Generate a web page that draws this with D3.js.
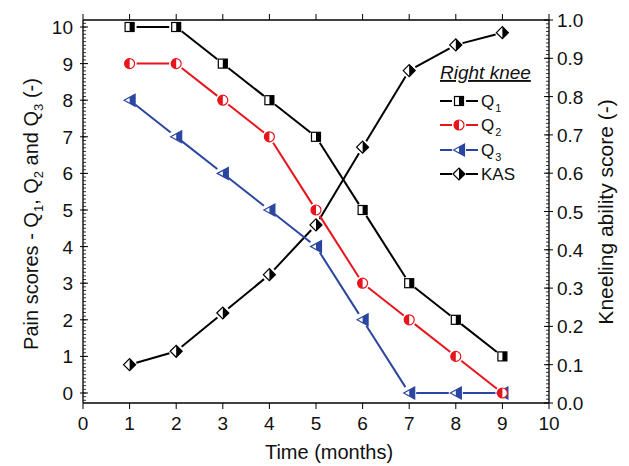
<!DOCTYPE html>
<html><head><meta charset="utf-8">
<script src="https://cdn.jsdelivr.net/npm/d3@7/dist/d3.min.js"></script>
<style>
body{margin:0;background:#fff;}
text{font-family:"Liberation Sans",Arial,sans-serif;fill:#111;}
</style></head>
<body><svg id="c" width="629" height="466"></svg>
<script>
const months = [1,2,3,4,5,6,7,8,9];
const q1 = [10,10,9,8,7,5,3,2,1];
const q2 = [9,9,8,7,5,3,2,1,0];
const q3 = [8,7,6,5,4,2,0,0,0];
const kas = [0.10,0.135,0.235,0.335,0.465,0.668,0.868,0.935,0.967];
const xTicks = [0,1,2,3,4,5,6,7,8,9,10];
const yLeftTicks = [0,1,2,3,4,5,6,7,8,9,10];
const yRightTicks = [0,0.1,0.2,0.3,0.4,0.5,0.6,0.7,0.8,0.9,1.0];

const svg = d3.select("#c");
const L=83,R=549,T=20,B=403;
const x = d3.scaleLinear().domain([0,10]).range([L,R]);
const yL = d3.scaleLinear().domain([0,10]).range([393,27]);
const yR = d3.scaleLinear().domain([0,1]).range([B,T]);

const red="#e8141c", blue="#2a46a0", black="#000";

// frame
const g = svg.append("g");
g.append("line").attr("x1",L).attr("x2",R).attr("y1",T).attr("y2",T).attr("stroke","#000").attr("stroke-width",1.3);
g.append("line").attr("x1",L).attr("x2",R).attr("y1",B).attr("y2",B).attr("stroke","#000").attr("stroke-width",1.3);
g.append("line").attr("x1",L).attr("x2",L).attr("y1",T).attr("y2",B).attr("stroke","#000").attr("stroke-width",1.3);
g.append("line").attr("x1",R).attr("x2",R).attr("y1",T).attr("y2",B).attr("stroke","#000").attr("stroke-width",1.3);

// x ticks bottom & top
xTicks.forEach(v=>{
  g.append("line").attr("x1",x(v)).attr("x2",x(v)).attr("y1",B).attr("y2",B+6).attr("stroke","#000");
  g.append("line").attr("x1",x(v)).attr("x2",x(v)).attr("y1",T).attr("y2",T-6).attr("stroke","#000");
  g.append("text").attr("x",x(v)).attr("y",B+27).attr("text-anchor","middle").attr("font-size",19).text(v);
});
// left minor ticks
const lMinor = d3.range(-2,102).map(i=>i/10).filter(v=>yL(v)<=B-1 && yL(v)>=T+1);
lMinor.forEach(v=>{
  g.append("line").attr("x1",L).attr("x2",L+3).attr("y1",yL(v)).attr("y2",yL(v)).attr("stroke","#000").attr("stroke-width",0.8);
});
yLeftTicks.forEach(v=>{
  g.append("line").attr("x1",L-3).attr("x2",L+5).attr("y1",yL(v)).attr("y2",yL(v)).attr("stroke","#000");
  g.append("text").attr("x",L-10).attr("y",yL(v)+7).attr("text-anchor","end").attr("font-size",19).text(v);
});
// right minor ticks
d3.range(1,100).map(i=>i/100).forEach(v=>{
  g.append("line").attr("x1",R-3).attr("x2",R).attr("y1",yR(v)).attr("y2",yR(v)).attr("stroke","#000").attr("stroke-width",0.8);
});
yRightTicks.forEach(v=>{
  g.append("line").attr("x1",R-5).attr("x2",R+4).attr("y1",yR(v)).attr("y2",yR(v)).attr("stroke","#000");
  g.append("text").attr("x",R+8).attr("y",yR(v)+7).attr("text-anchor","start").attr("font-size",19).text(v.toFixed(1));
});

// axis titles
g.append("text").attr("x",329).attr("y",459).attr("text-anchor","middle").attr("font-size",20).text("Time (months)");
const lt = g.append("text").attr("transform","translate(38,214) rotate(-90)").attr("text-anchor","middle").attr("font-size",20);
lt.append("tspan").text("Pain scores - Q");
lt.append("tspan").attr("font-size",13).attr("dy",5).text("1");
lt.append("tspan").attr("dy",-5).text(",  Q");
lt.append("tspan").attr("font-size",13).attr("dy",5).text("2");
lt.append("tspan").attr("dy",-5).text(" and Q");
lt.append("tspan").attr("font-size",13).attr("dy",5).text("3");
lt.append("tspan").attr("dy",-5).text(" (-)");
g.append("text").attr("transform","translate(613,212) rotate(-90)").attr("text-anchor","middle").attr("font-size",21).text("Kneeling ability score (-)");

// markers
function marker(sel, type, color, cx, cy){
  const m = sel.append("g").attr("transform",`translate(${cx},${cy})`);
  if(type==="square"){
    const s=4.5;
    m.append("rect").attr("x",-s).attr("y",-s).attr("width",2*s).attr("height",2*s).attr("fill","#fff");
    m.append("rect").attr("x",0).attr("y",-s).attr("width",s).attr("height",2*s).attr("fill",color);
    m.append("rect").attr("x",-s).attr("y",-s).attr("width",2*s).attr("height",2*s).attr("fill","none").attr("stroke",color).attr("stroke-width",1.2);
  } else if(type==="circle"){
    const r=5;
    m.append("circle").attr("r",r).attr("fill","#fff");
    m.append("path").attr("d",`M0,${-r} A${r},${r} 0 0 0 0,${r} Z`).attr("fill",color);
    m.append("circle").attr("r",r).attr("fill","none").attr("stroke",color).attr("stroke-width",1.2);
  } else if(type==="triangle"){
    const w=5.5,h=6;
    m.append("path").attr("d",`M${-w},0 L${w},${-h} L${w},${h} Z`).attr("fill","#fff");
    m.append("path").attr("d",`M0,${-h/2} L${w},${-h} L${w},${h} L0,${h/2} Z`).attr("fill",color);
    m.append("path").attr("d",`M${-w},0 L${w},${-h} L${w},${h} Z`).attr("fill","none").attr("stroke",color).attr("stroke-width",1.2);
  } else if(type==="diamond"){
    const s=6;
    m.append("path").attr("d",`M${-s},0 L0,${-s} L${s},0 L0,${s} Z`).attr("fill","#fff");
    m.append("path").attr("d",`M0,${-s} L${s},0 L0,${s} Z`).attr("fill",color);
    m.append("path").attr("d",`M${-s},0 L0,${-s} L${s},0 L0,${s} Z`).attr("fill","none").attr("stroke",color).attr("stroke-width",1.2);
  }
}

function series(vals, yScale, color, type){
  const pts = months.map((m,i)=>[x(m), yScale(vals[i])]);
  const sg = svg.append("g");
  const gap=7;
  for(let i=0;i<pts.length-1;i++){
    const [x1,y1]=pts[i],[x2,y2]=pts[i+1];
    const d=Math.hypot(x2-x1,y2-y1);
    if(d<=2*gap) continue;
    const ux=(x2-x1)/d, uy=(y2-y1)/d;
    sg.append("line").attr("x1",x1+ux*gap).attr("y1",y1+uy*gap).attr("x2",x2-ux*gap).attr("y2",y2-uy*gap)
      .attr("stroke",color).attr("stroke-width",2);
  }
  pts.forEach(p=>marker(sg,type,color,p[0],p[1]));
}
series(kas, yR, black, "diamond");
series(q3, yL, blue, "triangle");
series(q2, yL, red, "circle");
series(q1, yL, black, "square");

// legend
const lg = svg.append("g");
lg.append("text").attr("x",440).attr("y",79).attr("font-size",19).attr("font-style","italic").attr("text-decoration","underline").text("Right knee");
const leg = [
  {name:"Q",sub:"1",color:black,type:"square",y:101},
  {name:"Q",sub:"2",color:red,type:"circle",y:125},
  {name:"Q",sub:"3",color:blue,type:"triangle",y:150},
  {name:"KAS",sub:"",color:black,type:"diamond",y:174}
];
leg.forEach(e=>{
  lg.append("line").attr("x1",440).attr("x2",452).attr("y1",e.y).attr("y2",e.y).attr("stroke",e.color).attr("stroke-width",2);
  lg.append("line").attr("x1",466).attr("x2",478).attr("y1",e.y).attr("y2",e.y).attr("stroke",e.color).attr("stroke-width",2);
  marker(lg,e.type,e.color,459,e.y);
  const t=lg.append("text").attr("x",481).attr("y",e.y+6).attr("font-size",17).text(e.name);
  if(e.sub) t.append("tspan").attr("font-size",11).attr("dy",5).attr("dx",1).text(e.sub);
});
</script></body></html>
